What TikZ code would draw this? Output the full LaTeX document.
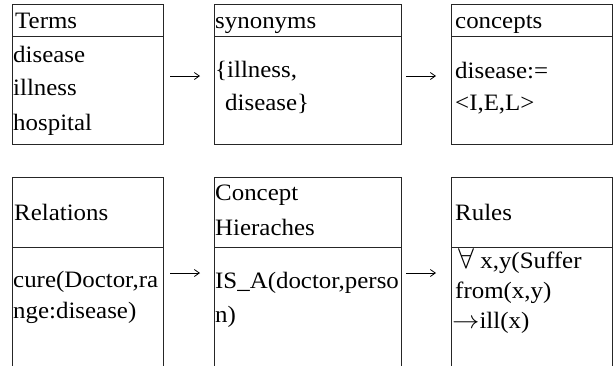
\documentclass[tikz,border=0pt]{standalone}
\usepackage{fontspec}
\setmainfont[FakeStretch=1.06]{Liberation Serif}
\usetikzlibrary{arrows.meta}
\begin{document}
\begin{tikzpicture}[x=1pt,y=-1pt,
  boxline/.style={draw=black!85,line width=0.8pt},
  txt/.style={anchor=base west,inner sep=0pt,font=\fontsize{23.5}{28}\selectfont},
  conn/.style={line width=0.8pt,-{Straight Barb[length=5pt,width=7pt]}}]
\useasboundingbox (0,0) rectangle (613,365);
\clip (0,0) rectangle (613,365);
% top row boxes
\node[boxline,anchor=north west,minimum width=151pt,minimum height=140pt,inner sep=0pt] (terms) at (12,4) {};
\node[boxline,anchor=north west,minimum width=187pt,minimum height=140pt,inner sep=0pt] (syn) at (214,4) {};
\node[boxline,anchor=north west,minimum width=161pt,minimum height=140pt,inner sep=0pt] (conc) at (451,4) {};
\draw[boxline] (12,36) -- (163,36);
\draw[boxline] (214,36) -- (401,36);
\draw[boxline] (451,36) -- (612,36);
% bottom row boxes (cut by the lower edge)
\node[boxline,anchor=north west,minimum width=151pt,minimum height=220pt,inner sep=0pt] (rel) at (12,177) {};
\node[boxline,anchor=north west,minimum width=187pt,minimum height=220pt,inner sep=0pt] (hier) at (214,177) {};
\node[boxline,anchor=north west,minimum width=161pt,minimum height=220pt,inner sep=0pt] (rules) at (451,177) {};
\draw[boxline] (12,247) -- (163,247);
\draw[boxline] (214,247) -- (401,247);
\draw[boxline] (451,247) -- (612,247);
% arrows
\coordinate (a1s) at (170,76); \coordinate (a1e) at (200,76);
\coordinate (a2s) at (406,76); \coordinate (a2e) at (436,76);
\coordinate (a3s) at (170,273); \coordinate (a3e) at (200,273);
\coordinate (a4s) at (406,273); \coordinate (a4e) at (436,273);
\draw[conn] (a1s) -- (a1e);
\draw[conn] (a2s) -- (a2e);
\draw[conn] (a3s) -- (a3e);
\draw[conn] (a4s) -- (a4e);
% texts
\node[txt] (t1) at (15,28) {Terms};
\node[txt] (t2) at (13,62) {disease};
\node[txt] (t3) at (13,95) {illness};
\node[txt] (t4) at (13,130) {hospital};
\node[txt] (s1) at (215,28) {synonyms};
\node[txt] (s2) at (215,77) {\{illness,};
\node[txt] (s3) at (225,110) {disease\}};
\node[txt] (c1) at (455,28) {concepts};
\node[txt] (c2) at (455,78) {disease:=};
\node[txt] (c3) at (455,110) {<I,E,L>};
\node[txt] (r1) at (14,220) {Relations};
\node[txt] (r2) at (13,287) {cure(Doctor,ra};
\node[txt] (r3) at (13,318) {nge:disease)};
\node[txt] (h1) at (215,200) {Concept};
\node[txt] (h2) at (215,235) {Hieraches};
\node[txt] (h3) at (215,288) {IS\_A(doctor,perso};
\node[txt] (h4) at (215,322) {n)};
\node[txt] (u1) at (455,220) {Rules};
\node[txt] (u2) at (458,268) {\scalebox{1.15}{$\forall$} x,y(Suffer};
\node[txt] (u3) at (455,298) {from(x,y)};
\node[txt] (u4) at (452,328) {\scalebox{1.1}[1]{$\rightarrow$}ill(x)};
\end{tikzpicture}
\end{document}
